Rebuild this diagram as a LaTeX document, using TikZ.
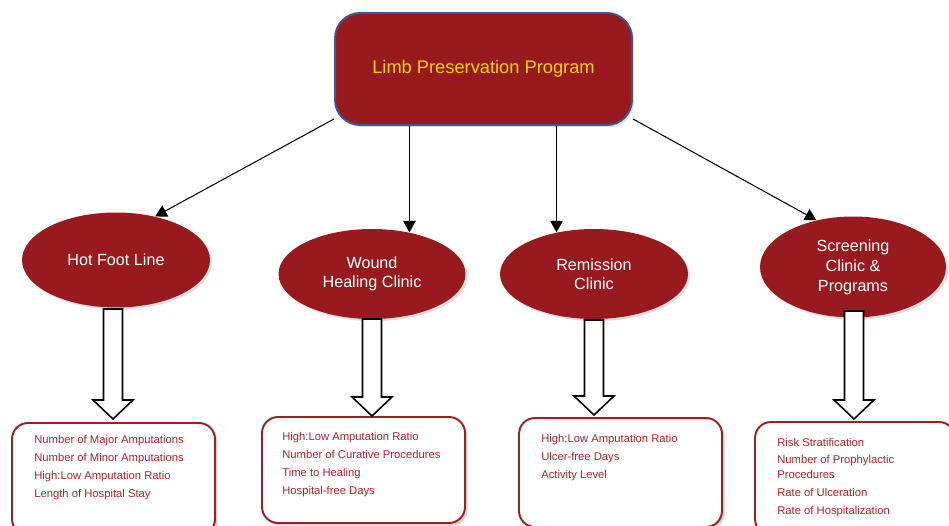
\documentclass[tikz,border=0pt]{standalone}
\usepackage{fontspec}
\setmainfont{Liberation Sans}
\usetikzlibrary{arrows.meta,shapes.geometric,shadows,calc}
\definecolor{dred}{RGB}{152,26,30}
\definecolor{tred}{RGB}{178,32,36}
\definecolor{bred}{RGB}{160,30,34}
\definecolor{ylw}{RGB}{250,212,0}
\definecolor{bblue}{RGB}{58,88,152}
\tikzset{
  topbox/.style={draw=bblue, line width=1.1pt, fill=dred, rounded corners=0.5cm,
    minimum width=5.94cm, minimum height=2.24cm, text=ylw,
    font=\fontsize{10.4}{12}\selectfont,
    drop shadow={opacity=0.25, shadow xshift=1.2pt, shadow yshift=-1.2pt}},
  clinic/.style={ellipse, fill=dred, text=white, align=center, inner sep=0pt,
    font=\fontsize{9.2}{10.8}\selectfont,
    drop shadow={opacity=0.25, shadow xshift=1.2pt, shadow yshift=-1.2pt}},
  outbox/.style={draw=bred, line width=1.1pt, fill=white, rounded corners=0.32cm,
    drop shadow={opacity=0.35, shadow xshift=1.5pt, shadow yshift=-1.5pt}},
  measures/.style={text=tred, align=left, anchor=north west, inner sep=0pt,
    font=\fontsize{6.4}{8.5}\selectfont},
  conn/.style={line width=0.6pt, -{Triangle[length=2.3mm,width=2.5mm]}},
  blockarr/.style={draw=black, line width=0.9pt, fill=white, line join=miter}
}
\newcommand\blockarrow[3]{%
  \draw[blockarr] (#1-9.5,#2) -- (#1+9.5,#2) -- (#1+9.5,#3-19) -- (#1+20,#3-19)
    -- (#1,#3) -- (#1-20,#3-19) -- (#1-9.5,#3-19) -- cycle;}
\begin{document}
\begin{tikzpicture}[x=0.02cm, y=-0.02cm]
\useasboundingbox (0,0) rectangle (949,526);
\clip (0,0) rectangle (949,526);
% top
\node[topbox] (top) at (483.5,69) {Limb Preservation Program};
% clinics
\node[clinic, minimum width=3.76cm, minimum height=1.9cm] (e1) at (116,260) {Hot Foot Line};
\node[clinic, minimum width=3.74cm, minimum height=1.8cm] (e2) at (372,274) {Wound\\Healing Clinic};
\node[clinic, minimum width=3.76cm, minimum height=1.8cm] (e3) at (594,274) {Remission\\Clinic};
\node[clinic, minimum width=3.72cm, minimum height=2.02cm, font=\fontsize{9.2}{11.4}\selectfont] (e4) at (853,267) {Screening\\Clinic \&\\Programs};
% connectors
\draw[conn] ([yshift=0.14cm]top.south west) -- (e1.48);
\draw[conn] (e2.48 |- top.south) -- (e2.48);
\draw[conn] (e3.132 |- top.south) -- (e3.132);
\draw[conn] ([yshift=0.14cm]top.south east) -- (e4.128);
% output boxes
\node[outbox, minimum width=4.06cm, minimum height=2.24cm] (b1) at (113.5,479) {};
\node[outbox, minimum width=4.06cm, minimum height=2.12cm] (b2) at (363.5,470) {};
\node[outbox, minimum width=4.06cm, minimum height=2.18cm] (b3) at (620.5,472.5) {};
\node[outbox, minimum width=4.0cm, minimum height=2.26cm] (b4) at (855,478.5) {};
% block arrows
\blockarrow{113}{309}{419}
\blockarrow{372}{319}{416}
\blockarrow{594}{320}{415}
\blockarrow{854}{311}{419}
% texts
\node[measures] (t1) at (34,435.5) {Number of Major Amputations\\[1.7pt]Number of Minor Amputations\\[1.7pt]High:Low Amputation Ratio\\[1.7pt]Length of Hospital Stay};
\node[measures] (t2) at (282,432.5) {High:Low Amputation Ratio\\[1.7pt]Number of Curative Procedures\\[1.7pt]Time to Healing\\[1.7pt]Hospital-free Days};
\node[measures] (t3) at (541,434.5) {High:Low Amputation Ratio\\[1.7pt]Ulcer-free Days\\[1.7pt]Activity Level};
\node[measures] (t4) at (777,437.5) {Risk Stratification\\[1.7pt]Number of Prophylactic\\Procedures\\[1.7pt]Rate of Ulceration\\[1.7pt]Rate of Hospitalization};
\end{tikzpicture}
\end{document}
